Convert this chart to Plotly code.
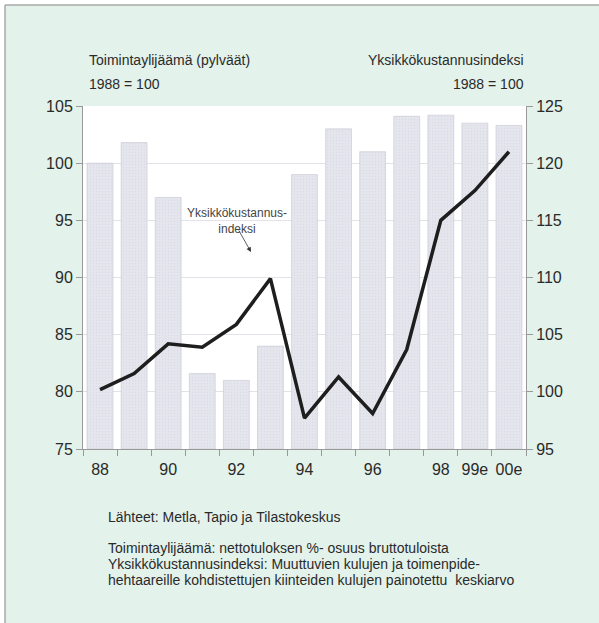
import plotly.graph_objects as go

# vuodet, toimintaylijäämä (pylväät) ja yksikkökustannusindeksi (viiva)
years = ["1988", "1989", "1990", "1991", "1992", "1993", "1994",
         "1995", "1996", "1997", "1998", "1999e", "2000e"]
year_labels = ["88", "", "90", "", "92", "", "94", "", "96", "", "98", "99e", "00e"]
surplus = [100.0, 101.8, 97.0, 81.6, 81.0, 84.0, 99.0,
           103.0, 101.0, 104.1, 104.2, 103.5, 103.3]
cost_index = [100.2, 101.6, 104.2, 103.9, 105.9, 109.9, 97.7,
              101.3, 98.1, 103.7, 115.0, 117.6, 121.0]

FONT = "Liberation Sans, Arial, sans-serif"
BG = "#e3f2eb"
TXT = "#2a2a2a"
BASE = 75
W, H = 599, 623

# plot area in pixels (left, right, top, bottom)
L, R, T, B = 83, 526, 106, 449


def px(x, y):
    # pixel position -> paper coordinates
    return (x - L) / (R - L), (B - y) / (B - T)


fig = go.Figure()

# bars start at the bottom of the axis (75), so heights are relative to it
fig.add_trace(go.Bar(
    x=years, y=[v - BASE for v in surplus], base=BASE,
    marker=dict(color="#e5e5ee", line=dict(color="#c6c6d0", width=0.6),
                pattern=dict(shape=".", size=3, solidity=0.15, fgcolor="#d0d0da")),
    yaxis="y",
))

fig.add_trace(go.Scatter(
    x=years, y=cost_index, mode="lines",
    line=dict(color="#1e1e1e", width=3.5),
    yaxis="y2",
))

fig.update_layout(
    width=W, height=H,
    paper_bgcolor=BG, plot_bgcolor="white",
    margin=dict(l=L, r=W - R, t=T, b=H - B),
    showlegend=False, bargap=0.24,
    font=dict(family=FONT, color=TXT),
    xaxis=dict(
        type="category", tickvals=years, ticktext=year_labels, tickangle=0,
        tickson="boundaries", ticks="outside", ticklen=6, tickcolor="#999",
        ticklabelstandoff=6,
        showline=True, linecolor="#999", linewidth=1,
        tickfont=dict(size=16, color=TXT), showgrid=False,
    ),
    yaxis=dict(
        range=[75, 105], tickvals=[75, 80, 85, 90, 95, 100, 105],
        ticks="outside", ticklen=6, tickcolor="#999",
        showline=True, linecolor="#999", linewidth=1,
        gridcolor="#e2e2e8", gridwidth=1, zeroline=False,
        tickfont=dict(size=16, color=TXT),
    ),
    yaxis2=dict(
        range=[95, 125], tickvals=[95, 100, 105, 110, 115, 120, 125],
        overlaying="y", side="right",
        ticks="outside", ticklen=6, tickcolor="#999",
        showline=True, linecolor="#999", linewidth=1,
        showgrid=False, zeroline=False,
        tickfont=dict(size=16, color=TXT),
    ),
)

# white strip and thin grey frame at the left and top edges (scanned page)
x0, y0 = px(0, 0)
x5, y5 = px(5, 5)
x1, y1 = px(W, H)
fig.add_shape(type="rect", xref="paper", yref="paper", x0=x0, x1=x5, y0=y1, y1=y0,
              fillcolor="white", line_width=0, layer="below")
fig.add_shape(type="rect", xref="paper", yref="paper", x0=x0, x1=x1, y0=y5, y1=y0,
              fillcolor="white", line_width=0, layer="below")
fig.add_shape(type="line", xref="paper", yref="paper", x0=x5, x1=x5, y0=y1, y1=y5,
              line=dict(color="#a8aaa8", width=1.5))
fig.add_shape(type="line", xref="paper", yref="paper", x0=x5, x1=x1, y0=y5, y1=y5,
              line=dict(color="#a8aaa8", width=1.5))

notes = [
    (87, 60, "Toimintaylijäämä (pylväät)", "left"),
    (87, 84, "1988 = 100", "left"),
    (526, 60, "Yksikkökustannusindeksi", "right"),
    (526, 84, "1988 = 100", "right"),
    (106, 517, "Lähteet: Metla, Tapio ja Tilastokeskus", "left"),
    (106, 548, "Toimintaylijäämä: nettotuloksen %- osuus bruttotuloista", "left"),
    (106, 564, "Yksikkökustannusindeksi: Muuttuvien kulujen ja toimenpide-", "left"),
    (106, 580, "hehtaareille kohdistettujen kiinteiden kulujen painotettu  keskiarvo", "left"),
]
for x, y, text, anchor in notes:
    xp, yp = px(x, y)
    fig.add_annotation(
        x=xp, y=yp, xref="paper", yref="paper",
        text=text, showarrow=False, xanchor=anchor, yanchor="middle",
        font=dict(size=14, color=TXT, family=FONT),
    )

# line label with arrow
xp, yp = px(251, 252)
fig.add_annotation(
    x=xp, y=yp, xref="paper", yref="paper",
    ax=-13, ay=-23, axref="pixel", ayref="pixel",
    showarrow=True, arrowhead=2, arrowsize=1.2, arrowwidth=0.8, arrowcolor="#333",
    text="",
)
xp, yp = px(237, 204)
fig.add_annotation(
    x=xp, y=yp, xref="paper", yref="paper",
    text="Yksikkökustannus-<br>indeksi", showarrow=False,
    font=dict(size=12, color="#444", family=FONT), align="center",
)

fig.write_html("out.html", config={"displayModeBar": False},
               post_script="document.body.style.margin='0';")
